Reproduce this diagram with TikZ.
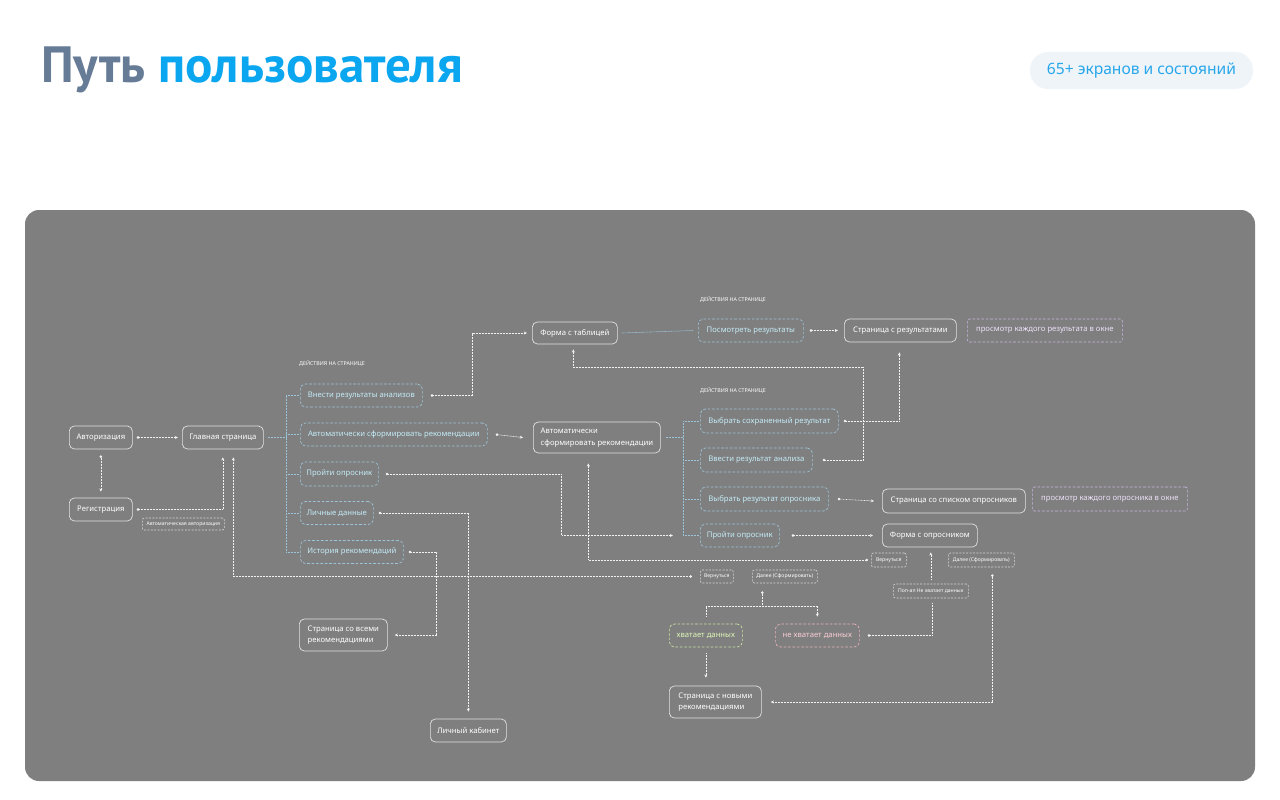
\documentclass[tikz,border=0pt]{standalone}
\usepackage{fontspec}
\setmainfont{Noto Sans}
\newfontfamily\titlefont{PT Sans}
\usetikzlibrary{arrows.meta}
\definecolor{panel}{HTML}{7F7F7F}
\definecolor{nodeline}{HTML}{E2E2E2}
\definecolor{bluel}{HTML}{9CC4D8}
\definecolor{bluet}{HTML}{C4ECF8}
\definecolor{purpl}{HTML}{C8B6E2}
\definecolor{purpt}{HTML}{EEE0FA}
\definecolor{greenl}{HTML}{C6E4A0}
\definecolor{greent}{HTML}{DDF6B8}
\definecolor{pinkl}{HTML}{E6B2BA}
\definecolor{pinkt}{HTML}{F8CCD4}
\definecolor{grayl}{HTML}{D6D6D6}
\definecolor{linew}{HTML}{F2F2F2}
\definecolor{titleg}{HTML}{667B96}
\definecolor{titleb}{HTML}{0AA6F0}
\definecolor{badgef}{HTML}{EFF4F9}
\definecolor{badget}{HTML}{27A7EA}
\tikzset{
  basebox/.style={inner sep=0pt, anchor=west, align=center, line width=0.7pt},
  solidn/.style={basebox, draw=nodeline, rounded corners=5pt, text=white, font=\fontsize{7.7}{11.5}\selectfont},
  actbox/.style={basebox, draw=bluel, dash pattern=on 2.6pt off 1.8pt, rounded corners=5pt, text=bluet, font=\fontsize{7.7}{9}\selectfont},
  purpbox/.style={basebox, draw=purpl, dash pattern=on 2.6pt off 1.8pt, rounded corners=2pt, text=purpt, font=\fontsize{7.7}{9}\selectfont},
  greenbox/.style={actbox, draw=greenl, text=greent},
  pinkbox/.style={actbox, draw=pinkl, text=pinkt},
  smallbox/.style={basebox, draw=grayl, line width=0.6pt, dash pattern=on 2pt off 1.4pt, rounded corners=2pt, text=white, font=\fontsize{5.1}{6}\selectfont},
  hdr/.style={anchor=west, inner sep=0pt, text=white, font=\fontsize{5.3}{6}\selectfont\bfseries},
  conn/.style={draw=linew, line width=0.55pt, dash pattern=on 0.9pt off 0.6pt, {Circle[length=2.6pt]}-{Stealth[length=3.2pt,width=3pt]}},
  connnt/.style={draw=linew, line width=0.55pt, dash pattern=on 0.9pt off 0.6pt},
  brk/.style={draw=bluel, line width=0.55pt, dash pattern=on 0.9pt off 0.6pt},
}
\begin{document}
\begin{tikzpicture}[x=1pt,y=-1pt]
\useasboundingbox[fill=white] (0,0) rectangle (1280,800);
% title and badge
\node[anchor=base west, inner sep=0pt, font=\titlefont\bfseries\fontsize{51}{56}\selectfont] (title) at (41,82)
  {\textcolor{titleg}{Путь} \textcolor{titleb}{пользователя}};
\node[fill=badgef, rounded corners=18pt, minimum width=223, minimum height=37, inner sep=0pt,
  text=badget, font=\fontsize{15.6}{17}\selectfont] (badge) at (1141.5,70.5) {65+ экранов и состояний};
% panel
\fill[panel, rounded corners=14pt] (25,210) rectangle (1255,781);

% left part
\node[solidn, minimum width=63, minimum height=23] (auth) at (69,437.5) {Авторизация};
\node[solidn, minimum width=81, minimum height=23] (glav) at (182,437.5) {Главная страница};
\node[solidn, minimum width=63, minimum height=23] (reg) at (69,509.5) {Регистрация};
\node[smallbox, minimum width=82, minimum height=12] (autoauth) at (142,524) {Автоматическая авторизация};

\node[hdr] (act1) at (299,364) {ДЕЙСТВИЯ НА СТРАНИЦЕ};
\node[actbox, minimum width=122, minimum height=23] (vnesti) at (300,395.5) {Внести результаты анализов};
\node[actbox, minimum width=187, minimum height=23] (avtoD) at (300,434.5) {Автоматически сформировать рекомендации};
\node[actbox, minimum width=78, minimum height=24] (proiti1) at (300,474) {Пройти опросник};
\node[actbox, minimum width=73, minimum height=23] (lichn) at (300,513) {Личные данные};
\node[actbox, minimum width=103, minimum height=23] (istor) at (300,552) {История рекомендаций};

\node[solidn, minimum width=88, minimum height=32, align=left] (vse) at (299,635) {Страница со всеми\\рекомендациями};
\node[solidn, minimum width=76, minimum height=23] (kabinet) at (430,730.5) {Личный кабинет};

% middle/top
\node[solidn, minimum width=85, minimum height=22] (forma) at (532,333) {Форма с таблицей};
\node[hdr] (act2) at (700,300) {ДЕЙСТВИЯ НА СТРАНИЦЕ};
\node[actbox, minimum width=105, minimum height=23] (posmotr) at (698,330.5) {Посмотреть результаты};
\node[solidn, minimum width=112, minimum height=23] (respage) at (844,330.5) {Страница с результатами};
\node[purpbox, minimum width=155, minimum height=23] (prosmres) at (967,330.5) {просмотр каждого результата в окне};

\node[solidn, minimum width=127, minimum height=31, align=left] (avtoN) at (533,437.5) {Автоматически\\сформировать рекомендации};
\node[hdr] (act3) at (700,391) {ДЕЙСТВИЯ НА СТРАНИЦЕ};
\node[actbox, minimum width=138, minimum height=24] (vybsoh) at (700,421) {Выбрать сохраненный результат};
\node[actbox, minimum width=112, minimum height=24] (vvesti) at (700,460) {Ввести результат анализа};
\node[actbox, minimum width=128, minimum height=24] (vybopr) at (700,499) {Выбрать результат опросника};
\node[actbox, minimum width=79, minimum height=23] (proiti2) at (700,535.5) {Пройти опросник};

\node[solidn, minimum width=143, minimum height=24] (spisok) at (882,501) {Страница со списком опросников};
\node[purpbox, minimum width=155, minimum height=24] (prosmopr) at (1032,499) {просмотр каждого опросника в окне};
\node[solidn, minimum width=95, minimum height=23] (formaopr) at (882,535.5) {Форма с опросником};
\node[smallbox, minimum width=35, minimum height=14] (vern2) at (871,560) {Вернуться};
\node[smallbox, minimum width=66, minimum height=14] (dalee2) at (948,560) {Далее (Сформировать)};
\node[smallbox, minimum width=75, minimum height=14] (popup) at (893,591) {Поп-ап Не хватает данных};

\node[smallbox, minimum width=33, minimum height=13] (vern1) at (700,576.5) {Вернуться};
\node[smallbox, minimum width=65, minimum height=13] (dalee1) at (752,576.5) {Далее (Сформировать)};
\node[greenbox, minimum width=73, minimum height=23] (hvat) at (669,635.5) {хватает данных};
\node[pinkbox, minimum width=84, minimum height=23] (nehvat) at (775,635.5) {не хватает данных};
\node[solidn, minimum width=92, minimum height=32, align=left] (novye) at (669,702) {Страница с новыми\\рекомендациями};

% brackets
\coordinate (brL) at (286,0);
\coordinate (brR) at (683,0);
\draw[brk] ([xshift=4pt]glav.east) -- (glav.east -| brL);
\draw[brk] (vnesti.west -| brL) -- (istor.west -| brL);
\foreach \n in {vnesti,avtoD,proiti1,lichn,istor}
  \draw[brk] (\n.west -| brL) -- ([xshift=-1.5pt]\n.west);
\draw[brk] ([xshift=5pt]avtoN.east) -- (avtoN.east -| brR);
\draw[brk] (vybsoh.west -| brR) -- (proiti2.west -| brR);
\foreach \n in {vybsoh,vvesti,vybopr,proiti2}
  \draw[brk] (\n.west -| brR) -- ([xshift=-1.5pt]\n.west);
\draw[brk] ([xshift=4pt]forma.east) -- ([xshift=-5pt]posmotr.west);

% connectors
\draw[conn] ([xshift=4pt]auth.east) -- ([xshift=-4pt]glav.west);
\draw[conn] ([yshift=-6pt]auth.south) -- ([yshift=6pt]auth.south |- reg.north);
\draw[conn] ([xshift=4pt]reg.east) -| ([yshift=-8pt]glav.south);
\draw[conn] ([xshift=-8pt]vern1.west) -| ([xshift=10.5pt,yshift=-8pt]glav.south);
\draw[conn] ([xshift=8pt]vnesti.east) -- ++(42,0) |- ([xshift=-5pt]forma.west);
\draw[conn] ([xshift=8pt]avtoD.east) -- ([xshift=-10pt]avtoN.west);
\draw[conn] ([xshift=7pt]proiti1.east) -- ++(176,0) |- ([xshift=-27pt]proiti2.west);
\draw[conn] ([xshift=5pt]lichn.east) -| ([yshift=7pt]kabinet.north);
\draw[conn] ([xshift=5pt]istor.east) -- ++(28,0) |- ([xshift=7pt]vse.east);
\draw[conn] ([xshift=-3pt]vern2.west) -| ([xshift=-8.5pt,yshift=-10pt]avtoN.south);
\draw[conn] ([xshift=5pt]vybsoh.east) -| ([xshift=-1pt,yshift=-10pt]respage.south);
\draw[conn] ([xshift=10pt]vvesti.east) -- ++(41,0) -- ++(0,-93) -| ([xshift=-1.5pt,yshift=-5pt]forma.south);
\draw[conn] ([xshift=6pt]posmotr.east) -- ([xshift=-6pt]respage.west);
\draw[conn] ([xshift=9pt]vybopr.east) -- ([xshift=-8pt]spisok.west);
\draw[conn] ([xshift=12pt]proiti2.east) -- ([xshift=-9pt]formaopr.west);
\draw[connnt, -{Stealth[length=3.2pt,width=3pt]}] ([yshift=4pt]popup.north) -- ([yshift=-5pt]popup.north |- formaopr.south);
\draw[connnt, {Circle[length=2.6pt]}-] ([xshift=8pt]nehvat.east) -| ([xshift=1pt,yshift=-5pt]popup.south);
\draw[conn] ([xshift=11pt,yshift=-7pt]dalee2.south) |- ([xshift=9pt]novye.east);
\draw[connnt, {Circle[length=2.6pt]}-] ([xshift=-22.5pt,yshift=-8pt]dalee1.south) -- ++(0,15) coordinate (jn);
\draw[connnt, -{Stealth[length=3.2pt,width=3pt]}] ([yshift=7pt]hvat.north) |- (jn) -| ([yshift=7pt]nehvat.north);
\draw[connnt, -{Stealth[length=3.2pt,width=3pt]}] ([yshift=-6pt]hvat.south) -- ([yshift=8pt]hvat.south |- novye.north);
\end{tikzpicture}
\end{document}
